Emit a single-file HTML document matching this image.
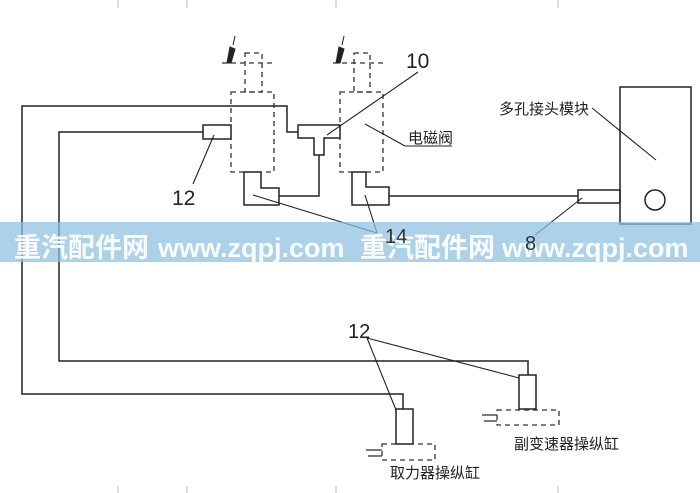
<!DOCTYPE html>
<html><head><meta charset="utf-8"><style>
html,body{margin:0;padding:0;background:#fff;}
svg{display:block;}
</style></head><body>
<svg width="700" height="493" viewBox="0 0 700 493" xmlns="http://www.w3.org/2000/svg">
<g stroke="#bbb" stroke-width="1">
<line x1="118" y1="0" x2="118" y2="8"/><line x1="187" y1="0" x2="187" y2="8"/><line x1="336" y1="0" x2="336" y2="8"/><line x1="558" y1="0" x2="558" y2="8"/>
<line x1="118" y1="486" x2="118" y2="493"/><line x1="187" y1="486" x2="187" y2="493"/><line x1="336" y1="486" x2="336" y2="493"/><line x1="558" y1="486" x2="558" y2="493"/>
</g>
<g fill="none" stroke="#222" stroke-width="1.5">
<polyline points="298,132 287,132 287,106 22,106 22,394 403,394 403,409"/>
<polyline points="203,132 59,132 59,361 528,361 528,375"/>
<rect x="203" y="125" width="28" height="14"/>
<polygon points="298,125 340,125 340,138 324,138 324,155 314,155 314,138 298,138"/>
<polyline points="319,155 319,196 279,196"/>
<polygon points="244,172 261,172 261,188 279,188 279,205 244,205"/>
<polygon points="352,172 366,172 366,187 389,187 389,205 352,205"/>
<line x1="389" y1="196" x2="578" y2="196"/>
<rect x="578" y="190" width="42" height="13"/>
<rect x="620" y="87" width="71" height="137"/>
<circle cx="655" cy="200" r="10"/>
<rect x="396" y="409" width="17" height="35"/>
<rect x="519" y="375" width="17" height="34"/>
</g>
<g fill="none" stroke="#333" stroke-width="1.3" stroke-dasharray="5,4">
<rect x="231" y="92" width="43" height="80"/>
<rect x="245" y="53" width="17" height="39"/>
<line x1="222" y1="63" x2="276" y2="63"/>
<rect x="340" y="92" width="43" height="80"/>
<rect x="354" y="53" width="16" height="39"/>
<line x1="333" y1="63" x2="385" y2="63"/>
<rect x="382" y="444" width="53" height="16"/>
<rect x="497" y="410" width="62" height="15"/>
</g>
<g stroke="#333" stroke-width="1.3">
<line x1="366" y1="450" x2="382" y2="450"/><line x1="368" y1="456" x2="382" y2="456"/>
<line x1="482" y1="415" x2="497" y2="415"/><line x1="484" y1="421" x2="497" y2="421"/>
</g>
<g fill="#222" stroke="#222" stroke-width="1">
<polygon points="227,63 230,47 235,49 231,63"/>
<line x1="233" y1="45" x2="235" y2="36"/>
<polygon points="336,63 339,47 344,49 340,63"/>
<line x1="342" y1="45" x2="344" y2="36"/>
</g>
<g stroke="#222" stroke-width="1.1">
<line x1="418" y1="72" x2="327" y2="135"/>
<line x1="365" y1="124" x2="405" y2="146"/><line x1="405" y1="146" x2="452" y2="146"/>
<line x1="592" y1="108" x2="656" y2="160"/>
<line x1="193" y1="184" x2="214" y2="135"/>
<line x1="253" y1="195" x2="377" y2="233"/>
<line x1="365" y1="195" x2="377" y2="233"/>
<line x1="535" y1="235" x2="582" y2="198"/>
<line x1="367" y1="338" x2="396" y2="410"/>
<line x1="367" y1="338" x2="519" y2="378"/>
</g>
<g font-family="'Liberation Sans',sans-serif" fill="#222">
<text x="406" y="68" font-size="21">10</text>
<text x="172" y="205" font-size="21">12</text>
<text x="348" y="338" font-size="20">12</text>
</g>
<g font-family="'Liberation Sans','Noto Sans CJK SC',sans-serif" fill="#222" font-size="15">
<text x="408" y="143">电磁阀</text>
<text x="499" y="114">多孔接头模块</text>
<text x="514" y="449">副变速器操纵缸</text>
<text x="390" y="478">取力器操纵缸</text>
</g>
<rect x="0" y="222" width="700" height="40" fill="#8ebfe0" fill-opacity="0.72"/>
<g font-family="'Liberation Sans','Noto Sans CJK SC',sans-serif" font-weight="bold" fill="#fff" fill-opacity="0.92" font-size="27">
<text x="14" y="257">重汽配件网</text>
<text x="158" y="257">www.zqpj.com</text>
<text x="360" y="257">重汽配件网</text>
<text x="502" y="257">www.zqpj.com</text>
</g>
<g font-family="'Liberation Sans',sans-serif" fill="#333">
<text x="385" y="243" font-size="20">14</text>
<text x="525" y="250" font-size="20">8</text>
</g>
</svg>
</body></html>
